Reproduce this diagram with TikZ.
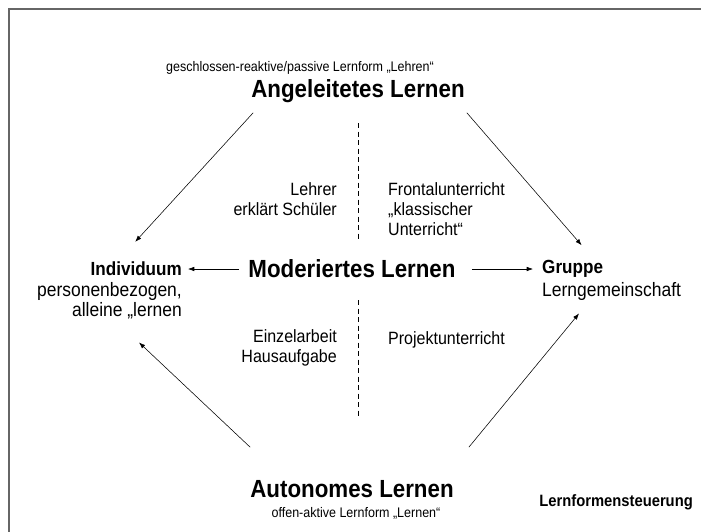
\documentclass[tikz,border=0pt]{standalone}
\usepackage{fontspec}
\setmainfont{Liberation Sans}[FakeStretch=0.9]
\usepackage{tikz}
\usetikzlibrary{arrows.meta}
\tikzset{
  title/.style={
    inner sep=0pt,
    font=\fontsize{24.8}{30}\selectfont\bfseries
  },
  subtitle/.style={
    inner sep=0pt,
    font=\fontsize{13.9}{17}\selectfont
  },
  label/.style={
    inner sep=0pt,
    font=\fontsize{17.8}{20}\selectfont
  },
  sidelabel/.style={
    inner sep=0pt,
    font=\fontsize{19.4}{20.5}\selectfont
  },
  boldlabel/.style={
    inner sep=0pt,
    font=\fontsize{19}{20}\selectfont\bfseries
  },
  divider/.style={
    dash pattern=on 5pt off 3.5pt,
    line width=0.8pt
  },
  every edge/.style={draw, -{Latex[length=2.2mm,width=1.6mm]}, line width=0.55pt}
}

\begin{document}
\begin{tikzpicture}[x=1pt,y=-1pt]
  \useasboundingbox (0,0) rectangle (701,531);
  \draw[gray!80!black, line width=1.6pt] (9,560) |- (730,9);

  \node[subtitle] (angdesc) at (300,68) {geschlossen-reaktive/passive Lernform „Lehren“};
  \node[title] (ang) at (358,91) {Angeleitetes Lernen};
  \node[title] (mod) at (352,269) {Moderiertes Lernen};
  \node[title] (aut) at (352,489) {Autonomes Lernen};
  \node[subtitle] (autdesc) at (356,513) {offen-aktive Lernform „Lernen“};

  \node[boldlabel, anchor=east] (ind) at (182,269) {Individuum};
  \node[sidelabel, anchor=north east, align=right] (indtxt) at (182,282) {personenbezogen,\\alleine „lernen};
  \node[boldlabel, anchor=west] (grp) at (542,269) {Gruppe};
  \node[sidelabel, anchor=north west] (grptxt) at (542,282) {Lerngemeinschaft};

  \node[label, anchor=north east, align=right] (lehrer) at (337,182) {Lehrer\\erklärt Schüler};
  \node[label, anchor=north west, align=left] (frontal) at (388,182) {Frontalunterricht\\„klassischer\\Unterricht“};
  \node[label, anchor=north east, align=right] (einzel) at (337,329) {Einzelarbeit\\Hausaufgabe};
  \node[label, anchor=north west] (projekt) at (388,331) {Projektunterricht};

  \node[boldlabel, anchor=east, font=\fontsize{16.4}{18}\selectfont\bfseries] (steuer) at (693,502) {Lernformensteuerung};

  % Trennlinien
  \draw[divider] (358,123) -- (358,240);
  \draw[divider] (358,300) -- (358,417);

  \path ([shift={(2,10)}]ang.south west) edge ([shift={(-1,-20)}]ind.north)
        ([shift={(2,10)}]ang.south east) edge ([shift={(9,-15)}]grp.north)
        ([xshift=-9]mod.west) edge ([xshift=6]ind.east)
        ([xshift=16]mod.east) edge ([xshift=-9]grp.west)
        ([shift={(0,-33)}]aut.north west) edge ([shift={(-43,23)}]indtxt.south east)
        ([shift={(15,-33)}]aut.north east) edge ([shift={(37,13)}]grptxt.south west);
\end{tikzpicture}
\end{document}
